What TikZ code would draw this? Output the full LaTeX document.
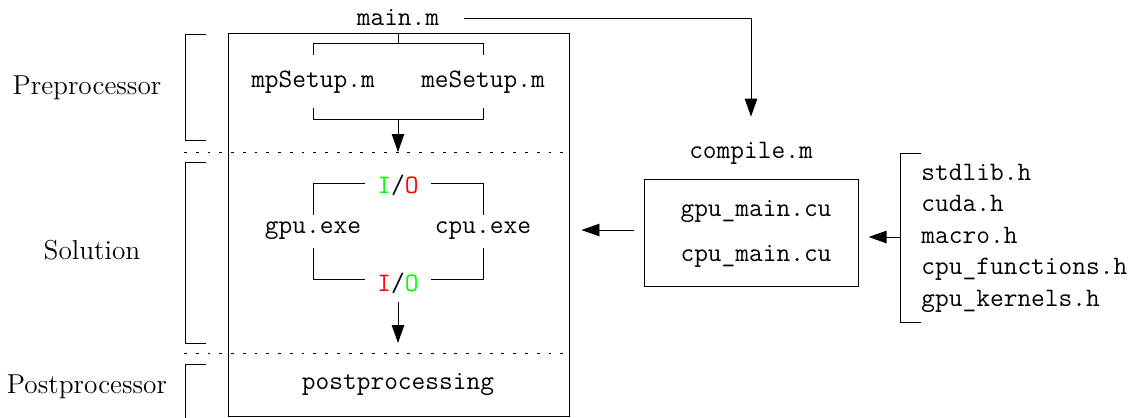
\documentclass[tikz,border=0pt]{standalone}
\usepackage{fontspec}
\usepackage{xcolor}
\usetikzlibrary{arrows.meta}
\tikzset{
  arr/.style={-{Triangle[length=7.5pt,width=5.2pt]}},
  bigtt/.style={font=\fontsize{11.1}{13}\selectfont\ttfamily},
  phase/.style={font=\fontsize{11.4}{13}\selectfont},
  sep/.style={dash pattern=on 1.2pt off 3.7pt}
}
\begin{document}
\begin{tikzpicture}[x=0.4167pt,y=-0.4167pt]
    \useasboundingbox (0,0) rectangle (1136,417);
    \node[bigtt] (mainm) at (398,18) {main.m};
    \node[draw,minimum width=142.1pt,minimum height=159.6pt,inner sep=0pt] (mainbox) at (398.5,224.5) {};

    \node[phase] (pre) at (87,88) {Preprocessor};
    \node[phase] (sol) at (92,250) {Solution};
    \node[phase] (post) at (87,387) {Postprocessor};
    \draw (206,34) -| (185,140) -- (206,140);
    \draw (206,162) -| (185,343) -- (206,343);
    \draw (206,364) -| (185,420);
    \draw[sep] (184,152) -- (566,152);
    \draw[sep] (184,353) -- (566,353);

    \node[bigtt] (mp) at (313,82) {mpSetup.m};
    \node[bigtt] (me) at (483,82) {meSetup.m};
    \draw (mainbox.north) --++(0,10);
    \draw (313,55) |- (483,43) -- (483,55);
    \draw (313,108) |- (483,119) -- (483,108);
    \coordinate (presplit) at (398,119);
    \draw[arr] (presplit) --++(0,33);

    \node[bigtt] (iotop) at (398,185) {\textcolor{green}{I}/\textcolor{red}{O}};
    \node[bigtt] (gpu) at (313,231) {gpu.exe};
    \node[bigtt] (cpu) at (483,231) {cpu.exe};
    \node[bigtt] (iobot) at (398,283) {\textcolor{red}{I}/\textcolor{green}{O}};
    \draw (365,183) -| (313,215);
    \draw (431,183) -| (483,215);
    \draw (313,248) |- (365,279);
    \draw (483,248) |- (431,279);
    \coordinate (solout) at (398,302);
    \draw[arr] (solout) --++(0,41);

    \node[bigtt] (postp) at (398,385) {postprocessing};

    \node[bigtt] (compm) at (751,153) {compile.m};
    \draw[arr,shorten <=7pt,shorten >=7pt] (mainm.east) -| (compm.north);
    \node[draw,minimum width=88.8pt,minimum height=44.2pt,inner sep=0pt] (srcbox) at (751.5,233) {};
    \node[bigtt] (gpumain) at (756,212) {gpu\_main.cu};
    \node[bigtt] (cpumain) at (756,256) {cpu\_main.cu};
    \draw[arr,shorten <=4.2pt,shorten >=5pt] (srcbox.west |- 0,230) -- (mainbox.east |- 0,230);

    \foreach \h [count=\i from 0] in {stdlib.h,cuda.h,macro.h,cpu\_functions.h,gpu\_kernels.h}
        \node[bigtt,anchor=base west,inner sep=0pt] (hdr\i) at (921,180+31.5*\i) {\h};
    \draw (921,153) -| (900,322) -- (921,322);
    \coordinate (hdrin) at (900,237);
    \draw[arr,shorten >=4.2pt] (hdrin) -- (srcbox.east |- hdrin);
\end{tikzpicture}
\end{document}
